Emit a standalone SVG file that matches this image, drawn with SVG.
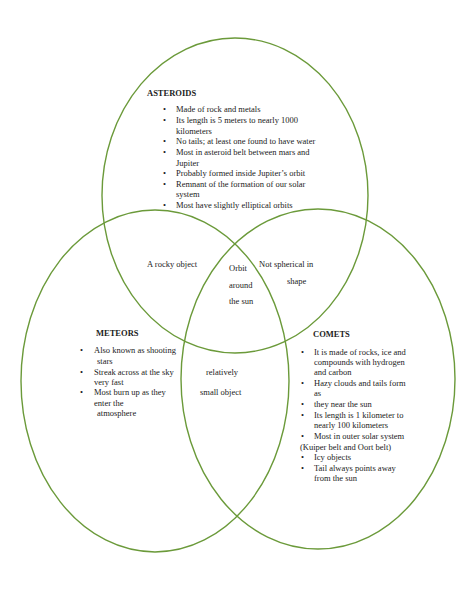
<svg xmlns="http://www.w3.org/2000/svg" width="474" height="613" viewBox="0 0 474 613">
<style>
.c{fill:none;stroke:#6b9a3a;stroke-width:1.4}
text{font-family:"Liberation Serif","Times New Roman",serif;font-size:8.5px;fill:#222}
.h{font-weight:bold}
</style>
<rect width="474" height="613" fill="#fff"/>
<g id="circles">
<ellipse id="c-asteroids" class="c" cx="235" cy="195.5" rx="133" ry="157.5"/>
<ellipse id="c-meteors" class="c" cx="155" cy="381" rx="134" ry="171"/>
<ellipse id="c-comets" class="c" cx="318" cy="379" rx="137" ry="170"/>
</g>
<g id="asteroids">
<text class="h" x="147" y="96">ASTEROIDS</text>
<text x="163" y="112.3">•</text><text x="176" y="112.3">Made of rock and metals</text>
<text x="163" y="122.9">•</text><text x="176" y="122.9">Its length is 5 meters to nearly 1000</text>
<text x="176" y="133.6">kilometers</text>
<text x="163" y="144.2">•</text><text x="176" y="144.2">No tails; at least one found to have water</text>
<text x="163" y="154.8">•</text><text x="176" y="154.8">Most in asteroid belt between mars and</text>
<text x="176" y="165.5">Jupiter</text>
<text x="163" y="176.1">•</text><text x="176" y="176.1">Probably formed inside Jupiter’s orbit</text>
<text x="163" y="186.7">•</text><text x="176" y="186.7">Remnant of the formation of our solar</text>
<text x="176" y="197.3">system</text>
<text x="163" y="208">•</text><text x="176" y="208">Most have slightly elliptical orbits</text>
</g>
<g id="meteors">
<text class="h" x="96" y="336">METEORS</text>
<text x="80" y="353">•</text><text x="94" y="353">Also known as shooting</text>
<text x="97" y="363.7">stars</text>
<text x="80" y="374.5">•</text><text x="94" y="374.5">Streak across at the sky</text>
<text x="94" y="384.7">very fast</text>
<text x="80" y="395.2">•</text><text x="94" y="395.2">Most burn up as they</text>
<text x="94" y="405.6">enter the</text>
<text x="97" y="416.2">atmosphere</text>
</g>
<g id="comets">
<text class="h" x="313" y="337">COMETS</text>
<text x="301" y="354.6">•</text><text x="314" y="354.6">It is made of rocks, ice and</text>
<text x="314" y="365.2">compounds with hydrogen</text>
<text x="314" y="375.2">and carbon</text>
<text x="301" y="385.6">•</text><text x="314" y="385.6">Hazy clouds and tails form</text>
<text x="314" y="396.2">as</text>
<text x="301" y="406.9">•</text><text x="314" y="406.9">they near the sun</text>
<text x="301" y="417.6">•</text><text x="314" y="417.6">Its length is 1 kilometer to</text>
<text x="314" y="428.2">nearly 100 kilometers</text>
<text x="301" y="438.9">•</text><text x="314" y="438.9">Most in outer solar system</text>
<text x="300" y="449.6">(Kuiper belt and Oort belt)</text>
<text x="301" y="459.6">•</text><text x="314" y="459.6">Icy objects</text>
<text x="301" y="470.6">•</text><text x="314" y="470.6">Tail always points away</text>
<text x="314" y="480.6">from the sun</text>
</g>
<g id="asteroids-meteors">
<text x="147" y="267">A rocky object</text>
</g>
<g id="asteroids-comets">
<text x="259" y="267">Not spherical in</text>
<text x="287" y="284">shape</text>
</g>
<g id="all-three">
<text x="229" y="270.5">Orbit</text>
<text x="229" y="287.5">around</text>
<text x="229" y="304">the sun</text>
</g>
<g id="meteors-comets">
<text x="206" y="374.5">relatively</text>
<text x="200" y="395.2">small object</text>
</g>
</svg>
